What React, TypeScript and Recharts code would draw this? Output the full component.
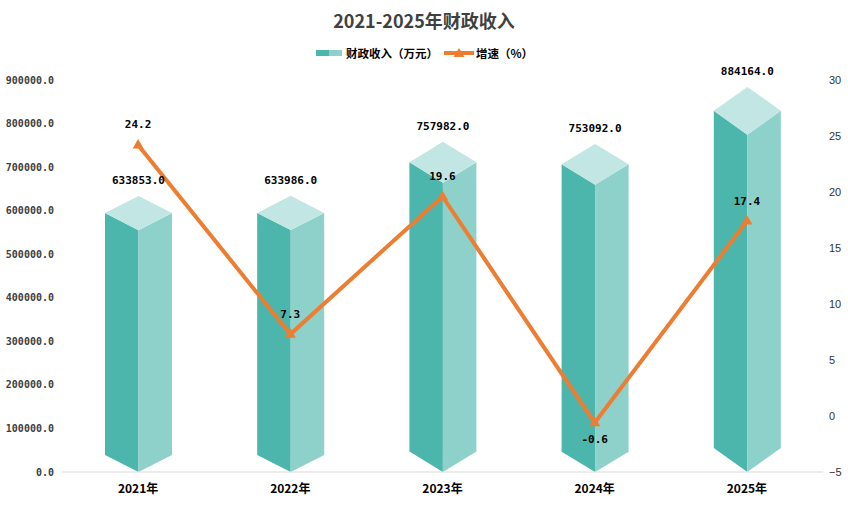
import {
  ComposedChart,
  Bar,
  Line,
  XAxis,
  YAxis,
  LabelList,
} from "recharts";

const years = ["2021年", "2022年", "2023年", "2024年", "2025年"];
const revenue = [633853, 633986, 757982, 753092, 884164];
const growth = [24.2, 7.3, 19.6, -0.6, 17.4];
const leftTicks = [0, 100000, 200000, 300000, 400000, 500000, 600000, 700000, 800000, 900000];
const rightTicks = [-5, 0, 5, 10, 15, 20, 25, 30];

const data = years.map((year, i) => ({
  year,
  revenue: revenue[i],
  growth: growth[i],
}));

const DARK = "#4db6ac";
const LIGHT = "#8dd1ca";
const TOP = "#c2e6e3";
const ORANGE = "#ed7d31";
const CJK = '"Noto Sans CJK SC", sans-serif';
const MONO = '"DejaVu Sans Mono", monospace';

// prism with a diamond top and a pointed bottom; apex sits at the value
function Prism(props: any) {
  const { x, y, width, height } = props;
  if (!height || height <= 0) return null;
  const d = height * 0.062;
  const cx = x + width / 2;
  const r = x + width;
  const b = y + height;
  return (
    <g>
      <polygon
        points={`${x},${y + d} ${cx},${y + 2 * d} ${cx},${b} ${x},${b - d}`}
        fill={DARK}
      />
      <polygon
        points={`${cx},${y + 2 * d} ${r},${y + d} ${r},${b - d} ${cx},${b}`}
        fill={LIGHT}
      />
      <polygon
        points={`${cx},${y} ${r},${y + d} ${cx},${y + 2 * d} ${x},${y + d}`}
        fill={TOP}
      />
    </g>
  );
}

function Triangle(props: any) {
  const { cx, cy, index } = props;
  if (cx == null || cy == null) return null;
  return (
    <path
      key={`tri-${index}`}
      d={`M${cx},${cy - 6} L${cx + 5.5},${cy + 3.5} L${cx - 5.5},${cy + 3.5} Z`}
      fill={ORANGE}
    />
  );
}

function BarLabel(props: any) {
  const { x, y, width, value } = props;
  return (
    <text
      x={x + width / 2}
      y={y - 15}
      textAnchor="middle"
      dominantBaseline="central"
      fontFamily={MONO}
      fontSize={11}
      fontWeight={700}
      fill="#000"
    >
      {Number(value).toFixed(1)}
    </text>
  );
}

function LineLabel(props: any) {
  const { x, y, value } = props;
  const below = value < 0;
  return (
    <text
      x={x}
      y={below ? y + 17 : y - 20}
      textAnchor="middle"
      dominantBaseline="central"
      fontFamily={MONO}
      fontSize={11}
      fontWeight={700}
      fill="#000"
    >
      {value}
    </text>
  );
}

function LeftTick(props: any) {
  const { x, y, payload } = props;
  return (
    <text
      x={x}
      y={y}
      textAnchor="end"
      dominantBaseline="central"
      fontFamily={MONO}
      fontSize={10}
      fontWeight={700}
      fill="#404040"
    >
      {Number(payload.value).toFixed(1)}
    </text>
  );
}

function RightTick(props: any) {
  const { x, y, payload } = props;
  return (
    <text
      x={x}
      y={y}
      textAnchor="start"
      dominantBaseline="central"
      fontFamily='"Liberation Sans", sans-serif'
      fontSize={11}
      fill="#333"
    >
      {String(payload.value).replace("-", "−")}
    </text>
  );
}

function BottomTick(props: any) {
  const { x, y, payload } = props;
  return (
    <text
      x={x}
      y={y + 7}
      textAnchor="middle"
      dominantBaseline="central"
      fontFamily={CJK}
      fontSize={12}
      fontWeight={700}
      fill="#000"
    >
      {payload.value}
    </text>
  );
}

export default function App() {
  return (
    <div style={{ position: "relative", width: 848, height: 506, background: "#fff" }}>
      <style>{"body{margin:0}"}</style>
      <div
        style={{
          position: "absolute",
          top: 8,
          left: 0,
          width: 848,
          textAlign: "center",
          fontFamily: CJK,
          fontWeight: 700,
          fontSize: 18,
          lineHeight: "24px",
          color: "#404040",
        }}
      >
        2021-2025年财政收入
      </div>
      <div
        style={{
          position: "absolute",
          top: 44,
          left: 316,
          display: "flex",
          alignItems: "center",
          height: 18,
          fontFamily: CJK,
          fontWeight: 700,
          fontSize: 11.5,
          color: "#000",
        }}
      >
        <span style={{ display: "inline-block", width: 13, height: 6, background: DARK }} />
        <span style={{ display: "inline-block", width: 13, height: 6, background: LIGHT, marginRight: 4 }} />
        <span>财政收入（万元）</span>
        <svg width={30} height={12} style={{ margin: "0 2px 0 6px" }}>
          <line x1={0} y1={6} x2={30} y2={6} stroke={ORANGE} strokeWidth={4} />
          <path d="M15,1 L20.5,10 L9.5,10 Z" fill={ORANGE} />
        </svg>
        <span>增速（%）</span>
      </div>
      <ComposedChart
        width={848}
        height={506}
        data={data}
        margin={{ top: 80, right: 0, bottom: 0, left: 0 }}
      >
        <XAxis
          dataKey="year"
          height={34}
          tickLine={false}
          axisLine={{ stroke: "#d9d9d9" }}
          tick={BottomTick}
        />
        <YAxis
          yAxisId="left"
          width={62}
          domain={[0, 900000]}
          ticks={leftTicks}
          tickLine={false}
          axisLine={false}
          tick={LeftTick}
        />
        <YAxis
          yAxisId="right"
          orientation="right"
          width={25}
          domain={[-5, 30]}
          ticks={rightTicks}
          tickLine={false}
          axisLine={false}
          tickMargin={0}
          tick={RightTick}
        />
        <Bar
          yAxisId="left"
          dataKey="revenue"
          barSize={67}
          shape={Prism}
          isAnimationActive={false}
        >
          <LabelList dataKey="revenue" content={BarLabel} />
        </Bar>
        <Line
          yAxisId="right"
          dataKey="growth"
          stroke={ORANGE}
          strokeWidth={4}
          dot={Triangle}
          activeDot={false}
          isAnimationActive={false}
        >
          <LabelList dataKey="growth" content={LineLabel} />
        </Line>
      </ComposedChart>
    </div>
  );
}
